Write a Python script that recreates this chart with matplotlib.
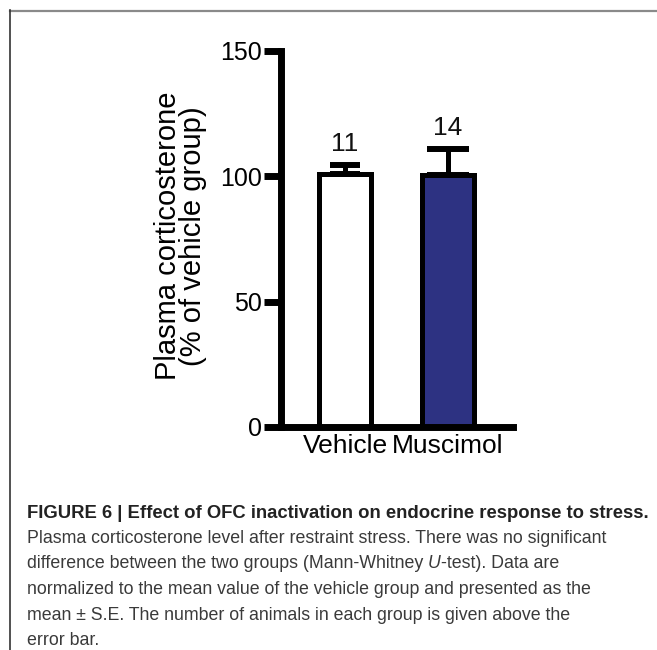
import matplotlib
matplotlib.use("Agg")
import matplotlib.pyplot as plt
from matplotlib.lines import Line2D

# ---- data ----
groups = ["Vehicle", "Muscimol"]
means = [101.0, 100.5]
sems = [3.5, 10.3]
n_animals = ["11", "14"]
yticks = [0, 50, 100, 150]
bar_colors = ["white", "#2d3282"]

caption_bold = "FIGURE 6 | Effect of OFC inactivation on endocrine response to stress."
caption_lines = [
    "Plasma corticosterone level after restraint stress. There was no significant",
    ("difference between the two groups (Mann-Whitney ", "U", "-test). Data are"),
    "normalized to the mean value of the vehicle group and presented as the",
    "mean \u00b1 S.E. The number of animals in each group is given above the",
    "error bar.",
]

W, H = 657, 650
fig = plt.figure(figsize=(W / 100, H / 100), dpi=100)

REG = ["Liberation Sans", "DejaVu Sans"]

# axes placed in pixel terms
ax_l, ax_r, ax_b, ax_t = 281, 513, 427, 51
ax = fig.add_axes([ax_l / W, 1 - ax_b / H, (ax_r - ax_l) / W, (ax_b - ax_t) / H])

x = [0, 1]
ax.bar(x, means, width=0.5, color=bar_colors, edgecolor="black", linewidth=3.6, zorder=3)
caps = [11, 15]
for xi, m, s, c in zip(x, means, sems, caps):
    ax.errorbar([xi], [m], yerr=[[0], [s]], fmt="none", ecolor="black",
                elinewidth=3.6, capsize=c, capthick=4.3, zorder=2)
for xi, m, s, t in zip(x, means, sems, n_animals):
    ax.text(xi, m + s + 3.6, t, ha="center", va="bottom", fontsize=19, family=REG, color="#111")

ax.set_xlim(-0.621, 1.631)
ax.set_ylim(0, 150)
ax.set_yticks(yticks)
ax.set_yticklabels([str(v) for v in yticks], family=REG, fontsize=18)
ax.set_xticks(x)
ax.set_xticklabels(groups, family=REG, fontsize=19)
ax.tick_params(axis="y", length=12, width=5, pad=1.5, direction="out")
ax.tick_params(axis="x", length=0, pad=5)
for sp in ["top", "right"]:
    ax.spines[sp].set_visible(False)
for sp in ["left", "bottom"]:
    ax.spines[sp].set_linewidth(5)
    ax.spines[sp].set_capstyle("projecting")
ax.spines["bottom"].set_zorder(4)
ax.set_facecolor("none")

ax.set_ylabel("Plasma corticosterone\n(% of vehicle group)", family=REG, fontsize=21,
              linespacing=0.85)
ax.yaxis.set_label_coords((207 - ax_l) / (ax_r - ax_l), (ax_b - 236) / (ax_b - ax_t))

# frame lines
fig.add_artist(Line2D([9.5 / W, 1], [1 - 10.5 / H, 1 - 10.5 / H], transform=fig.transFigure,
                      color="#8a8a8a", linewidth=1.6))
fig.add_artist(Line2D([9.5 / W, 9.5 / W], [0, 1 - 10 / H], transform=fig.transFigure,
                      color="#333333", linewidth=1.2))

# caption, fitted to measured line widths
fig.canvas.draw()
r = fig.canvas.get_renderer()


def fit_text(xp, yp, s, target_w, **kw):
    t = fig.text(xp / W, 1 - yp / H, s, ha="left", va="baseline", fontsize=12, **kw)
    w = t.get_window_extent(r).width
    t.set_fontsize(12 * target_w / w)
    return t

tb = fit_text(27, 518, caption_bold, 620, family=REG, weight="bold", color="#222222")
t2 = fit_text(27, 543, caption_lines[0], 581, family=REG, color="#3a3a3a")
fs = t2.get_fontsize()
baselines = [568, 594, 620, 645]
for yb, line in zip(baselines, caption_lines[1:]):
    if isinstance(line, tuple):
        xp = 27
        for k, part in enumerate(line):
            t = fig.text(xp / W, 1 - yb / H, part, ha="left", va="baseline", fontsize=fs,
                         family=REG, color="#3a3a3a", style="italic" if k == 1 else "normal")
            xp += t.get_window_extent(r).width
    else:
        fig.text(27 / W, 1 - yb / H, line, ha="left", va="baseline", fontsize=fs,
                 family=REG, color="#3a3a3a")

fig.savefig("out.png", dpi=100)
